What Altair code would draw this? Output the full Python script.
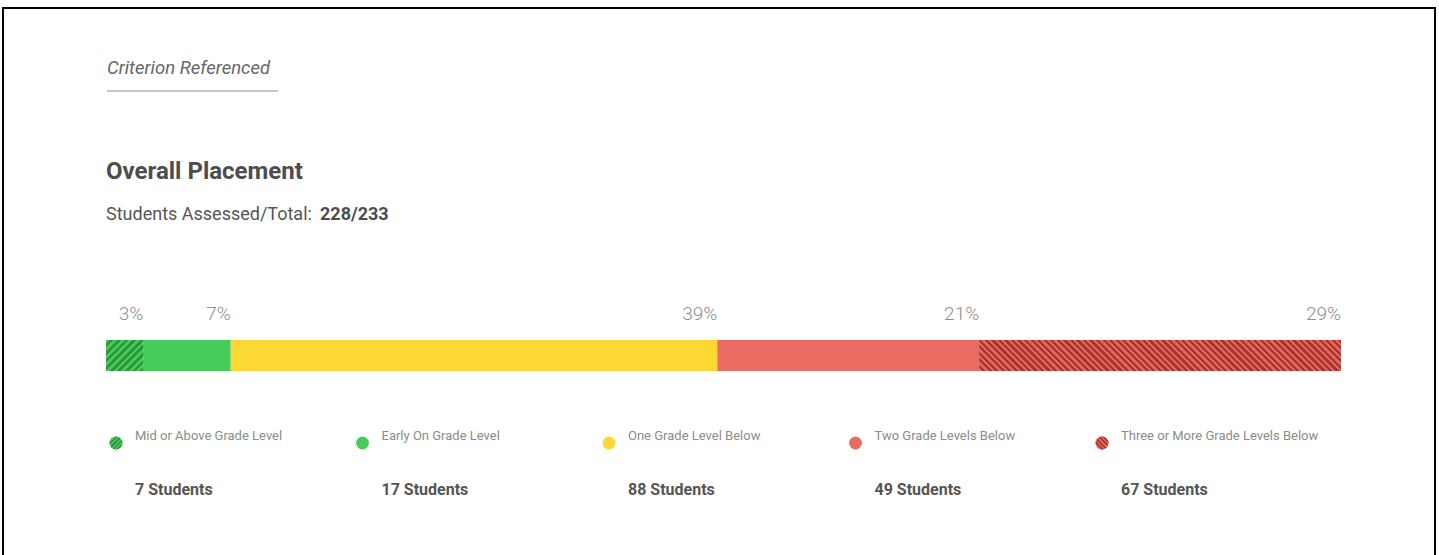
import altair as alt
import pandas as pd

# ---------------- data ----------------
categories = [
    "Mid or Above Grade Level",
    "Early On Grade Level",
    "One Grade Level Below",
    "Two Grade Levels Below",
    "Three or More Grade Levels Below",
]
percents = [3, 7, 39, 21, 29]
students = [7, 17, 88, 49, 67]
section_title = ["Criterion Referenced"]
chart_title = ["Overall Placement"]
subtitle_prefix = ["Students Assessed/Total:"]
subtitle_value = ["228/233"]

# ---------------- style ----------------
base_colors = ["#46c95a", "#46cc5a", "#fdd835", "#e96b62", "#e2655b"]
hatched = {
    "Mid or Above Grade Level": ("#46c95a", "#2e963a", 8, "/"),
    "Three or More Grade Levels Below": ("#e2655b", "#a3352d", 6.5, "\\"),
}
W, H = 1439, 555
BAR_X0, BAR_X1 = 106, 1341
BAR_Y0, BAR_Y1 = 340, 371
FONT = "Roboto"


def stripe_gradient(w, h, light, dark, period, direction):
    n = max(1, round((w + h) / period))
    stops = []
    for i in range(n):
        a, m, b = i / n, (i + 0.5) / n, (i + 1) / n
        stops += [
            alt.GradientStop(offset=a, color=light),
            alt.GradientStop(offset=m, color=light),
            alt.GradientStop(offset=m, color=dark),
            alt.GradientStop(offset=b, color=dark),
        ]
    k = (w + h) / (w * w + h * h)
    if direction == "/":
        x1, y1, x2, y2 = 0, 0, k * w, k * h
    else:
        x1, y1, x2, y2 = 0, 1, k * w, 1 - k * h
    return alt.LinearGradient(gradient="linear", stops=stops, x1=x1, y1=y1, x2=x2, y2=y2)


df = pd.DataFrame({
    "cat": categories,
    "pct": percents,
    "n": students,
    "order": list(range(len(categories))),
})
tot_pct = sum(percents)

base = (
    alt.Chart(df)
    .transform_window(end="sum(pct)", sort=[alt.SortField("order")], frame=[None, 0])
    .transform_calculate(start="datum.end - datum.pct", label="datum.pct + '%'")
)
xscale = alt.Scale(domain=[0, tot_pct], range=[BAR_X0, BAR_X1], nice=False, zero=True)
color_scale = alt.Scale(domain=categories, range=base_colors)

bars = base.mark_bar().encode(
    x=alt.X("start:Q", scale=xscale, axis=None),
    x2="end:Q",
    y=alt.value(BAR_Y0),
    y2=alt.value(BAR_Y1),
    color=alt.Color("cat:N", scale=color_scale, legend=None),
)

bar_layers = [bars]
for cat, (light, dark, period, direction) in hatched.items():
    pct = percents[categories.index(cat)]
    w = pct / tot_pct * (BAR_X1 - BAR_X0)
    grad = stripe_gradient(w, BAR_Y1 - BAR_Y0, light, dark, period, direction)
    bar_layers.append(
        base.transform_filter(alt.datum.cat == cat).mark_bar(fill=grad).encode(
            x=alt.X("start:Q", scale=xscale, axis=None),
            x2="end:Q",
            y=alt.value(BAR_Y0),
            y2=alt.value(BAR_Y1),
        )
    )

pct_text = base.mark_text(
    align="right", baseline="middle", font=FONT, fontSize=19, fontWeight=300, color="#8e8e8e"
).encode(
    x=alt.X("end:Q", scale=xscale, axis=None),
    y=alt.value(314),
    text="label:N",
)
bar_layers.append(pct_text)
bar_block = alt.layer(*bar_layers)

# ---------------- legend ----------------
lx = alt.Scale(domain=categories, range=[116, 1102], padding=0)
leg = alt.Chart(df)
CIRC = 165
leg_layers = [
    leg.mark_circle(size=CIRC, opacity=1).encode(
        x=alt.X("cat:N", scale=lx, axis=None),
        y=alt.value(443),
        color=alt.Color("cat:N", scale=color_scale, legend=None),
    )
]
for cat, (light, dark, period, direction) in hatched.items():
    grad = stripe_gradient(14, 14, light, dark, 4.7, direction)
    leg_layers.append(
        leg.transform_filter(alt.datum.cat == cat).mark_circle(size=CIRC, opacity=1, fill=grad).encode(
            x=alt.X("cat:N", scale=lx, axis=None),
            y=alt.value(443),
        )
    )
leg_layers.append(
    leg.mark_text(align="left", baseline="middle", dx=19, font=FONT, fontSize=13, color="#8c8c8c").encode(
        x=alt.X("cat:N", scale=lx, axis=None),
        y=alt.value(436),
        text="cat:N",
    )
)
leg_layers.append(
    leg.transform_calculate(cnt="datum.n + ' Students'").mark_text(
        align="left", baseline="middle", dx=19, font=FONT, fontSize=16, fontWeight="bold", color="#555555"
    ).encode(
        x=alt.X("cat:N", scale=lx, axis=None),
        y=alt.value(490),
        text="cnt:N",
    )
)
legend_block = alt.layer(*leg_layers)

# ---------------- titles & frame ----------------
def label(values, x, y, **kw):
    return alt.Chart(pd.DataFrame({"t": values})).mark_text(
        align="left", baseline="middle", font=FONT, **kw
    ).encode(x=alt.value(x), y=alt.value(y), text="t:N")


frame = alt.Chart(pd.DataFrame({"a": [0]})).mark_rect(
    fillOpacity=0, stroke="#000000", strokeWidth=2
).encode(x=alt.value(3), x2=alt.value(1435), y=alt.value(8), y2=alt.value(H + 40))

underline = alt.Chart(pd.DataFrame({"a": [0]})).mark_rule(
    color="#b5b5b5", strokeWidth=1.5
).encode(x=alt.value(107), x2=alt.value(278), y=alt.value(91))

titles = [
    label(section_title, 107, 68, fontSize=18.5, fontStyle="italic", color="#666666"),
    label(chart_title, 106, 172, fontSize=24, fontWeight="bold", color="#4d4d4d"),
    label(subtitle_prefix, 106, 215, fontSize=18, color="#555555"),
    label(subtitle_value, 320, 215, fontSize=18, fontWeight="bold", color="#4d4d4d"),
]

chart = (
    alt.layer(frame, underline, *titles, bar_block, legend_block)
    .resolve_scale(x="independent", color="independent")
    .properties(width=W, height=H, autosize=alt.AutoSizeParams(type="none"), padding=0, background="white")
    .configure_view(stroke=None)
)

chart.save("out.html", embed_options={"renderer": "svg", "actions": False})
